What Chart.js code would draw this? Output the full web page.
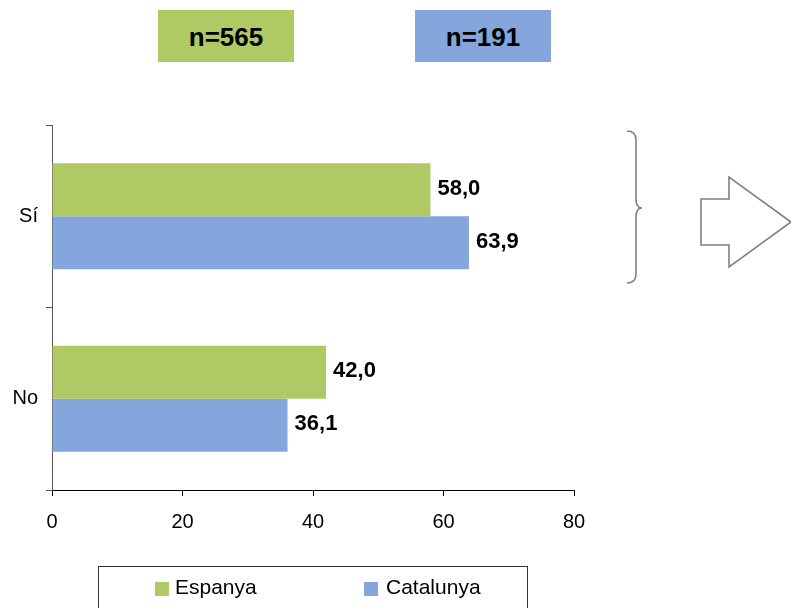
<!DOCTYPE html>
<html>
<head>
<meta charset="utf-8">
<script src="https://cdn.jsdelivr.net/npm/chart.js@4"></script>
<style>
  html, body { margin:0; padding:0; background:#fff; }
  #wrap { position:relative; width:791px; height:608px; overflow:hidden; font-family:"Liberation Sans", Arial, sans-serif; }
  #c { position:absolute; left:0; top:0; }
  .nbox { position:absolute; top:10px; width:136px; height:52px; line-height:54px; text-align:center; font-weight:bold; font-size:26px; color:#000; }
  #legend { position:absolute; left:98px; top:566px; width:430px; height:60px; border:1px solid #333; box-sizing:border-box; }
  .li { position:absolute; top:8px; font-size:21px; color:#000; line-height:24px; }
  .sw { position:absolute; width:14px; height:14px; top:15px; }
  svg { position:absolute; left:0; top:0; }
</style>
</head>
<body>
<div id="wrap">
  <canvas id="c" width="791" height="608"></canvas>
  <div class="nbox" id="nb0" style="left:158px;"></div>
  <div class="nbox" id="nb1" style="left:415px;"></div>
  <div id="legend"></div>
  <svg width="791" height="608" viewBox="0 0 791 608">
    <path d="M627,131 C633,131 636,134 636,140 L636,199 C636,205 638,208 642,208 C638,208 636,211 636,217 L636,274 C636,280 633,283 627,283" fill="none" stroke="#808080" stroke-width="1.6"/>
    <path d="M701,199 L729,199 L729,177 L791,222 L729,267 L729,245 L701,245 Z" fill="none" stroke="#7f7f7f" stroke-width="1.6"/>
  </svg>
</div>
<script>
const categories = ["Sí", "No"];
const seriesNames = ["Espanya", "Catalunya"];
const espanya = [58.0, 42.0];
const catalunya = [63.9, 36.1];
const sampleSizes = ["n=565", "n=191"];
const xTicks = [0, 20, 40, 60, 80];

const colors = ["rgb(175,201,101)", "rgb(132,166,220)"];

document.getElementById('nb0').textContent = sampleSizes[0];
document.getElementById('nb0').style.background = colors[0];
document.getElementById('nb1').textContent = sampleSizes[1];
document.getElementById('nb1').style.background = colors[1];

const legend = document.getElementById('legend');
const legendPos = [[56, 76], [265, 287]];
seriesNames.forEach((n, i) => {
  const sw = document.createElement('div');
  sw.className = 'sw';
  sw.style.left = legendPos[i][0] + 'px';
  sw.style.background = colors[i];
  legend.appendChild(sw);
  const t = document.createElement('div');
  t.className = 'li';
  t.style.left = legendPos[i][1] + 'px';
  t.textContent = n;
  legend.appendChild(t);
});

const labelPlugin = {
  id: 'vals',
  afterDatasetsDraw(chart) {
    const ctx = chart.ctx;
    ctx.save();
    ctx.font = 'bold 22px "Liberation Sans", Arial, sans-serif';
    ctx.fillStyle = '#000';
    ctx.textBaseline = 'middle';
    ctx.textAlign = 'left';
    chart.data.datasets.forEach((ds, di) => {
      chart.getDatasetMeta(di).data.forEach((bar, i) => {
        ctx.fillText(ds.data[i].toFixed(1).replace('.', ','), bar.x + 7, bar.y - 1);
      });
    });
    ctx.restore();
  }
};

new Chart(document.getElementById('c'), {
  type: 'bar',
  data: {
    labels: categories,
    datasets: [
      { label: seriesNames[0], data: espanya, backgroundColor: colors[0], categoryPercentage: 0.58, barPercentage: 1.0 },
      { label: seriesNames[1], data: catalunya, backgroundColor: colors[1], categoryPercentage: 0.58, barPercentage: 1.0 }
    ]
  },
  options: {
    indexAxis: 'y',
    responsive: false,
    animation: false,
    layout: { padding: { left: 0, top: 125, right: 217, bottom: 0 } },
    plugins: { legend: { display: false }, tooltip: { enabled: false } },
    scales: {
      x: {
        type: 'linear',
        min: 0, max: 80,
        afterBuildTicks(scale) { scale.ticks = xTicks.map(v => ({ value: v })); },
        afterFit(scale) { scale.height = 118; },
        border: { display: true, color: '#000', width: 1 },
        grid: { drawOnChartArea: false, drawTicks: true, tickLength: 6, color: '#000' },
        ticks: { color: '#000', font: { family: '"Liberation Sans", Arial, sans-serif', size: 20 }, padding: 14, maxRotation: 0 }
      },
      y: {
        afterFit(scale) { scale.width = 52; },
        border: { display: true, color: '#555', width: 1 },
        grid: { offset: true, drawOnChartArea: false, drawTicks: true, tickLength: 6, color: '#555' },
        ticks: { color: '#000', font: { family: '"Liberation Sans", Arial, sans-serif', size: 20 }, padding: 8 }
      }
    }
  },
  plugins: [labelPlugin]
});
</script>
</body>
</html>
